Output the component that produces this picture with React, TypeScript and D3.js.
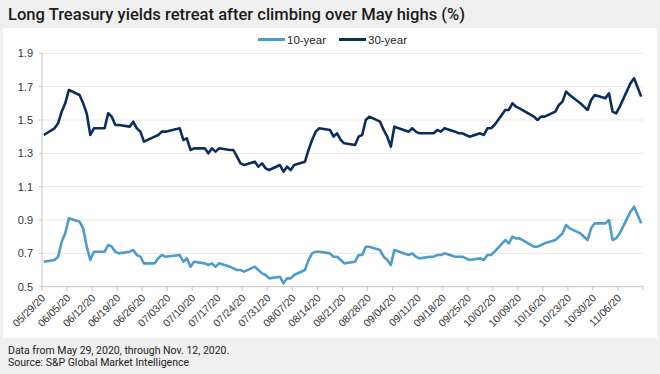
import React from "react";
import * as d3 from "d3";

// business days, May 29 - Nov 12, 2020 (bond market holidays skipped)
const dates = [
  "05/29/20",
  "06/01/20", "06/02/20", "06/03/20", "06/04/20", "06/05/20",
  "06/08/20", "06/09/20", "06/10/20", "06/11/20", "06/12/20",
  "06/15/20", "06/16/20", "06/17/20", "06/18/20", "06/19/20",
  "06/22/20", "06/23/20", "06/24/20", "06/25/20", "06/26/20",
  "06/29/20", "06/30/20", "07/01/20", "07/02/20",
  "07/06/20", "07/07/20", "07/08/20", "07/09/20", "07/10/20",
  "07/13/20", "07/14/20", "07/15/20", "07/16/20", "07/17/20",
  "07/20/20", "07/21/20", "07/22/20", "07/23/20", "07/24/20",
  "07/27/20", "07/28/20", "07/29/20", "07/30/20", "07/31/20",
  "08/03/20", "08/04/20", "08/05/20", "08/06/20", "08/07/20",
  "08/10/20", "08/11/20", "08/12/20", "08/13/20", "08/14/20",
  "08/17/20", "08/18/20", "08/19/20", "08/20/20", "08/21/20",
  "08/24/20", "08/25/20", "08/26/20", "08/27/20", "08/28/20",
  "08/31/20", "09/01/20", "09/02/20", "09/03/20", "09/04/20",
  "09/08/20", "09/09/20", "09/10/20", "09/11/20",
  "09/14/20", "09/15/20", "09/16/20", "09/17/20", "09/18/20",
  "09/21/20", "09/22/20", "09/23/20", "09/24/20", "09/25/20",
  "09/28/20", "09/29/20", "09/30/20", "10/01/20", "10/02/20",
  "10/05/20", "10/06/20", "10/07/20", "10/08/20", "10/09/20",
  "10/13/20", "10/14/20", "10/15/20", "10/16/20",
  "10/19/20", "10/20/20", "10/21/20", "10/22/20", "10/23/20",
  "10/26/20", "10/27/20", "10/28/20", "10/29/20", "10/30/20",
  "11/02/20", "11/03/20", "11/04/20", "11/05/20", "11/06/20",
  "11/09/20", "11/10/20", "11/12/20",
];

const tenYear = [
  0.65,
  0.66, 0.68, 0.77, 0.82, 0.91,
  0.89, 0.85, 0.74, 0.66, 0.71,
  0.71, 0.75, 0.74, 0.71, 0.70,
  0.71, 0.72, 0.69, 0.68, 0.64,
  0.64, 0.67, 0.69, 0.68,
  0.69, 0.65, 0.67, 0.62, 0.65,
  0.64, 0.63, 0.64, 0.62, 0.64,
  0.62, 0.61, 0.60, 0.60, 0.59,
  0.62, 0.60, 0.58, 0.57, 0.55,
  0.56, 0.52, 0.55, 0.55, 0.57,
  0.60, 0.66, 0.70, 0.71, 0.71,
  0.70, 0.68, 0.68, 0.66, 0.64,
  0.65, 0.69, 0.69, 0.74, 0.74,
  0.72, 0.68, 0.66, 0.63, 0.72,
  0.69, 0.70, 0.68, 0.67,
  0.68, 0.68, 0.69, 0.69, 0.70,
  0.68, 0.68, 0.68, 0.67, 0.66,
  0.67, 0.66, 0.69, 0.69, 0.71,
  0.78, 0.76, 0.80, 0.79, 0.79,
  0.74, 0.74, 0.75, 0.76,
  0.78, 0.80, 0.82, 0.87, 0.85,
  0.82, 0.80, 0.78, 0.85, 0.88,
  0.88, 0.90, 0.78, 0.79, 0.82,
  0.95, 0.98, 0.88,
];

const thirtyYear = [
  1.41,
  1.45, 1.48, 1.55, 1.60, 1.68,
  1.65, 1.60, 1.54, 1.41, 1.45,
  1.45, 1.54, 1.52, 1.47, 1.47,
  1.46, 1.49, 1.45, 1.43, 1.37,
  1.40, 1.41, 1.43, 1.43,
  1.45, 1.38, 1.39, 1.32, 1.33,
  1.33, 1.30, 1.33, 1.31, 1.33,
  1.32, 1.32, 1.28, 1.24, 1.23,
  1.25, 1.22, 1.24, 1.21, 1.20,
  1.23, 1.19, 1.22, 1.20, 1.23,
  1.25, 1.32, 1.38, 1.43, 1.45,
  1.44, 1.40, 1.42, 1.38, 1.36,
  1.35, 1.40, 1.41, 1.50, 1.52,
  1.49, 1.44, 1.40, 1.34, 1.46,
  1.43, 1.45, 1.43, 1.42,
  1.42, 1.42, 1.44, 1.43, 1.45,
  1.43, 1.42, 1.42, 1.41, 1.40,
  1.42, 1.41, 1.45, 1.45, 1.47,
  1.56, 1.56, 1.60, 1.58, 1.57,
  1.52, 1.50, 1.52, 1.52,
  1.55, 1.59, 1.61, 1.67, 1.65,
  1.60, 1.58, 1.56, 1.62, 1.65,
  1.63, 1.66, 1.55, 1.54, 1.58,
  1.72, 1.75, 1.64,
];

const yTicks = [0.5, 0.7, 0.9, 1.1, 1.3, 1.5, 1.7, 1.9];

const seriesNames = ["10-year", "30-year"];
const seriesColors = ["#4d9ccb", "#0b2d5e"];

const width = 660;
const height = 374;
const margin = { top: 53.3, right: 17, bottom: 87.3, left: 42 };

const parseDate = d3.timeParse("%m/%d/%y");
const fmtDate = d3.timeFormat("%m/%d/%y");

const App = () => {
  const days = dates.map((s) => parseDate(s) as Date);
  const start = days[0];
  const end = d3.timeDay.offset(days[days.length - 1], 1);

  const x = d3
    .scaleTime()
    .domain([start, end])
    .range([margin.left, width - margin.right]);

  const y = d3
    .scaleLinear()
    .domain([0.5, 1.9])
    .range([height - margin.bottom, margin.top]);

  // each value sits mid-day, like a date axis with "between tick marks"
  const xMid = (d: Date) => x(d3.timeHour.offset(d, 12));

  const line = d3
    .line<number>()
    .x((_, i) => xMid(days[i]))
    .y((v) => y(v))
    .curve(d3.curveLinear);

  const series = [tenYear, thirtyYear];

  // weekly ticks from the first date
  const xTicks = d3.timeDay.range(start, d3.timeDay.offset(end, 1), 7);

  const plotBottom = y(0.5);
  const plotTop = y(1.9);
  const xLeft = margin.left;
  const xRight = width - margin.right;

  const sans = "'Liberation Sans', Arial, sans-serif";

  return (
    <div style={{ position: "absolute", left: 0, top: 0 }}>
      <svg width={width} height={height} style={{ display: "block" }}>
        <rect width={width} height={height} fill="#efefef" />
        <text
          x={8}
          y={20}
          fontFamily="Roboto, sans-serif"
          fontWeight={500}
          fontSize={16}
          fill="#1b1b1b"
          textLength={457}
          lengthAdjust="spacingAndGlyphs"
        >
          Long Treasury yields retreat after climbing over May highs (%)
        </text>

        <rect x={3} y={28} width={654} height={310} fill="#ffffff" />

        {/* legend */}
        {seriesNames.map((name, i) => {
          const lx = i === 0 ? 258 : 339;
          return (
            <g key={name}>
              <line
                x1={lx}
                x2={lx + 27}
                y1={39.5}
                y2={39.5}
                stroke={seriesColors[i]}
                strokeWidth={3}
              />
              <text
                x={lx + 29}
                y={43.5}
                fontFamily={sans}
                fontSize={11.5}
                fill="#222"
              >
                {name}
              </text>
            </g>
          );
        })}

        {/* gridlines */}
        {yTicks
          .filter((t) => t !== 0.5)
          .map((t) => (
            <line
              key={"g" + t}
              x1={xLeft}
              x2={xRight}
              y1={y(t)}
              y2={y(t)}
              stroke="#e8e8e8"
              strokeWidth={1}
            />
          ))}

        {/* y axis */}
        <line
          x1={xLeft}
          x2={xLeft}
          y1={plotTop}
          y2={plotBottom}
          stroke="#c4c4c4"
        />
        {yTicks.map((t) => (
          <g key={"y" + t}>
            <line
              x1={xLeft - 3}
              x2={xLeft}
              y1={y(t)}
              y2={y(t)}
              stroke="#c4c4c4"
            />
            <text
              x={xLeft - 9}
              y={y(t) + 4}
              textAnchor="end"
              fontFamily={sans}
              fontSize={11}
              fill="#333"
            >
              {t.toFixed(1)}
            </text>
          </g>
        ))}

        {/* x axis */}
        <line
          x1={xLeft}
          x2={xRight}
          y1={plotBottom}
          y2={plotBottom}
          stroke="#c4c4c4"
        />
        {xTicks.map((t, i) => (
          <g key={"x" + i}>
            <line
              x1={x(t)}
              x2={x(t)}
              y1={plotBottom}
              y2={plotBottom + 4}
              stroke="#c4c4c4"
            />
            {i < xTicks.length - 1 && (
              <text
                transform={`translate(${x(t) + 4},${plotBottom + 12}) rotate(-45)`}
                textAnchor="end"
                fontFamily={sans}
                fontSize={10.5}
                fill="#333"
              >
                {fmtDate(t)}
              </text>
            )}
          </g>
        ))}

        {/* lines */}
        {series.map((vals, i) => (
          <path
            key={seriesNames[i]}
            d={line(vals) || ""}
            fill="none"
            stroke={seriesColors[i]}
            strokeWidth={2.6}
            strokeLinejoin="round"
          />
        ))}

        {/* footer */}
        <text x={8} y={354} fontFamily="Roboto, sans-serif" fontSize={10.5} fill="#222">
          Data from May 29, 2020, through Nov. 12, 2020.
        </text>
        <text x={8} y={366} fontFamily="Roboto, sans-serif" fontSize={10.5} fill="#222">
          Source: S&amp;P Global Market Intelligence
        </text>
      </svg>
    </div>
  );
};

export default App;
